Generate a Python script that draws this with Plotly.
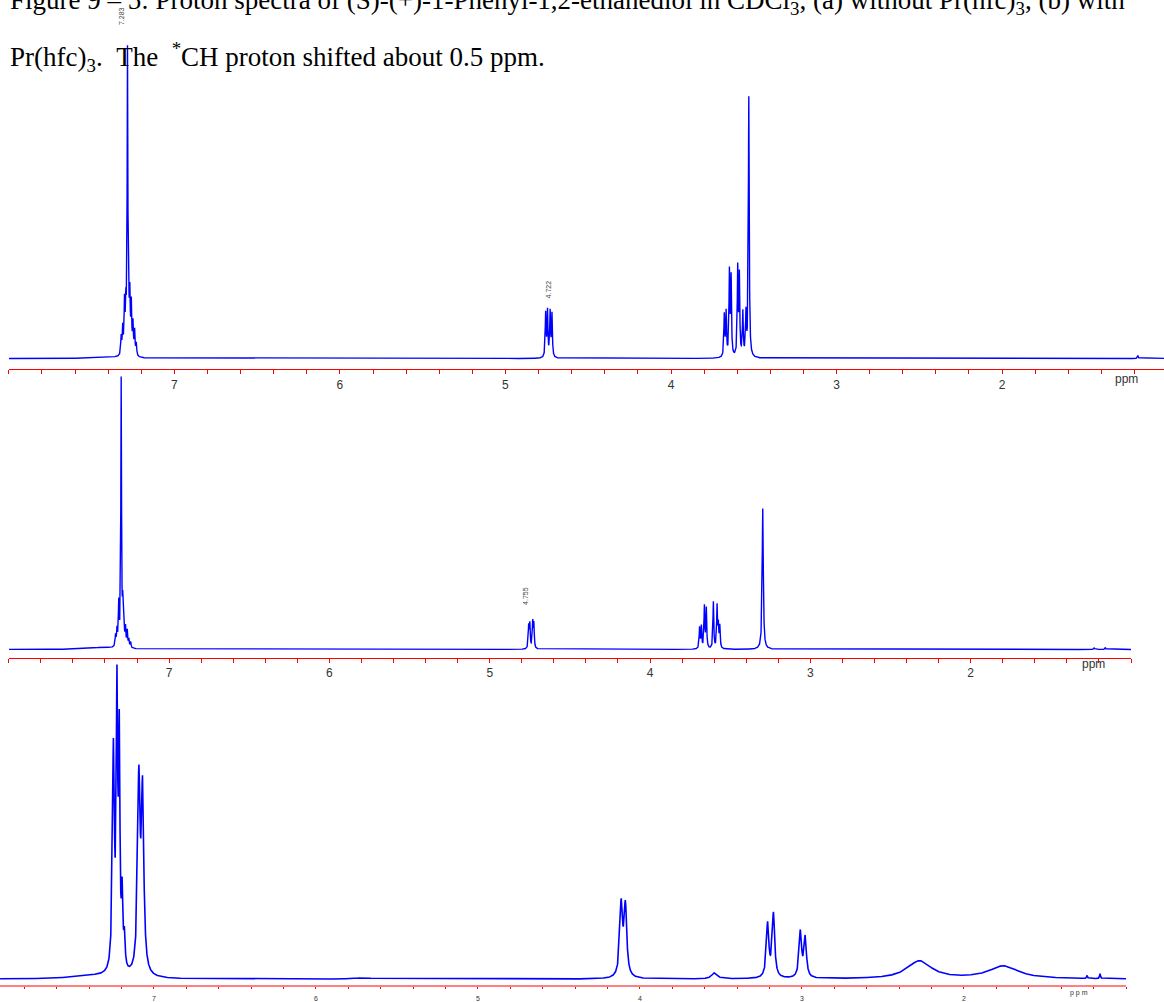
import numpy as np
import plotly.graph_objects as go

W, H = 1164, 1002

# ---------------- data: peak lists (ppm, intensity, half-width in ppm) ----------------
# (a) top spectrum
a_ppm = [7.321, 7.312, 7.301, 7.293, 7.283, 7.276, 7.269, 7.260, 7.250, 7.240, 7.230, 7.42,
         4.757, 4.746, 4.730, 4.719,
         3.678, 3.667, 3.647, 3.637, 3.597, 3.587, 3.566, 3.547, 3.530, 1.18]
a_int = [18, 26, 50, 44, 300, 40, 54, 48, 30, 24, 12, 1.5,
         44, 46, 45, 43,
         42, 44, 84, 78, 88, 80, 44, 42, 262, 3]
a_hw = [.003, .003, .003, .003, .0025, .003, .003, .003, .003, .003, .003, .08,
        .003, .003, .003, .003,
        .003, .003, .003, .003, .003, .003, .003, .003, .003, .003]

# (b) middle spectrum
b_ppm = [7.334, 7.325, 7.314, 7.299, 7.289, 7.282, 7.272, 7.261, 7.251, 7.240, 7.42,
         4.757, 4.750, 4.732, 4.725,
         3.691, 3.680, 3.661, 3.649, 3.605, 3.582, 3.574, 3.565, 3.297, 1.23, 1.16]
b_int = [11, 16, 42, 268, 38, 24, 18, 16, 8, 6, 2,
         22, 24, 26, 24,
         21, 22, 42, 40, 47, 42, 22, 22, 142, 1.5, 2]
b_hw = [.003, .003, .003, .0025, .003, .003, .003, .003, .003, .003, .08,
        .003, .003, .003, .003,
        .003, .003, .003, .003, .003, .003, .003, .003, .004, .003, .003]

# (c) bottom spectrum, with Pr(hfc)3
c_ppm = [7.250, 7.228, 7.214, 7.196, 7.182, 7.093, 7.070, 7.38, 5.71,
         4.116, 4.090, 3.540,
         3.212, 3.176, 3.010, 2.980,
         2.275, 1.755, 1.24, 1.16]
c_int = [222, 266, 225, 70, 30, 190, 178, 3, 1.5,
         72, 70, 6,
         54, 64, 46, 40,
         18, 13, 3, 5]
c_hw = [.007, .005, .005, .005, .005, .009, .009, .15, .05,
        .010, .010, .02,
        .009, .009, .009, .009,
        .09, .11, .003, .003]

# axis ticks
major_ticks = [7, 6, 5, 4, 3, 2]
major_text = ["7", "6", "5", "4", "3", "2"]

# peak labels
a_labels = [(7.315, "7.283"), (4.740, "4.722")]
b_labels = [(4.773, "4.755")]


def spectrum(lo, hi, ppm, inten, hw):
    x = np.arange(lo, hi, 0.0005)
    y = np.zeros_like(x)
    for c, h, w in zip(ppm, inten, hw):
        y += h * w * w / ((x - c) ** 2 + w * w)
    return x, y


def px(p):
    return p / W


def py(p):
    return 1 - p / H


fig = go.Figure()

xa, ya = spectrum(1.0, 8.0, a_ppm, a_int, a_hw)
xb, yb = spectrum(1.0, 8.0, b_ppm, b_int, b_hw)
xc, yc = spectrum(1.0, 7.95, c_ppm, c_int, c_hw)

blue = dict(color="#0000ff", width=1.4)
fig.add_trace(go.Scatter(x=xa, y=ya, mode="lines", line=blue, xaxis="x", yaxis="y", hoverinfo="skip"))
fig.add_trace(go.Scatter(x=xb, y=yb, mode="lines", line=blue, xaxis="x2", yaxis="y2", hoverinfo="skip"))
fig.add_trace(go.Scatter(x=xc, y=yc, mode="lines", line=dict(color="#0000ff", width=1.6),
                         xaxis="x3", yaxis="y3", hoverinfo="skip"))

tickfont = dict(family="Liberation Sans", size=12, color="#333333")
tickfont3 = dict(family="Liberation Sans", size=7, color="#333333")


def xax(domain, rng, anchor, font, tlen=4, lcolor="#ff0000", lwidth=1, standoff=None):
    d = dict(domain=domain, range=rng, anchor=anchor, showgrid=False, zeroline=False,
             showline=True, linecolor=lcolor, linewidth=lwidth,
             ticks="outside", ticklen=tlen, tickcolor="#ff0000", tickwidth=1,
             tickvals=major_ticks, ticktext=major_text, tickfont=font,
             minor=dict(ticks="outside", ticklen=tlen, tickcolor="#ff0000", dtick=0.2, tick0=0,
                        showgrid=False))
    if standoff is not None:
        d["ticklabelstandoff"] = standoff
    return d


def yax(domain, rng, anchor):
    return dict(domain=domain, range=rng, anchor=anchor, visible=False, showgrid=False, zeroline=False)


layout = dict(
    width=W, height=H, margin=dict(l=0, r=0, t=0, b=0),
    paper_bgcolor="white", plot_bgcolor="rgba(0,0,0,0)", showlegend=False,
    xaxis=xax([px(8.8), 1.0], [8.0, 1.022], "y", tickfont),
    yaxis=yax([py(371.7), py(5)], [-10.7, 356], "x"),
    xaxis2=xax([px(8.8), px(1131)], [8.0, 1.0], "y2", tickfont),
    yaxis2=yax([py(662.3), py(372)], [-8.3, 282], "x2"),
    xaxis3=xax([0, px(1126)], [7.95, 1.0], "y3", tickfont3,
               tlen=2, lcolor="#ff8080", lwidth=2, standoff=3),
    yaxis3=yax([py(992.3), py(640)], [-6.3, 346], "x3"),
)
fig.update_layout(**layout)

serif = dict(family="Liberation Serif", size=27, color="black")
fig.add_annotation(xref="paper", yref="paper", x=px(8), y=py(2), xanchor="left", yanchor="middle",
                   showarrow=False, font=serif,
                   text="Figure 9 \u2013 5: Proton spectra of (S)-(+)-1-Phenyl-1,2-ethanediol in CDCl<sub>3</sub>, "
                        "(a) without Pr(hfc)<sub>3</sub>, (b) with")
fig.add_annotation(xref="paper", yref="paper", x=px(8), y=py(57), xanchor="left", yanchor="middle",
                   showarrow=False, font=serif,
                   text="Pr(hfc)<sub>3</sub>.\u00a0\u00a0The\u00a0\u00a0<sup>*</sup>CH proton shifted about 0.5 ppm.")

small = dict(family="Liberation Sans", size=7, color="#444444")
for p, t in a_labels:
    yv = 345 if t == "7.283" else 70
    fig.add_annotation(xref="x", yref="y", x=p, y=yv, text=t, textangle=-90, showarrow=False,
                       font=small, xanchor="center", yanchor="middle")
for p, t in b_labels:
    fig.add_annotation(xref="x2", yref="y2", x=p, y=54, text=t, textangle=-90, showarrow=False,
                       font=small, xanchor="center", yanchor="middle")

# "ppm" unit labels
fig.add_annotation(xref="x", yref="paper", x=1.246, y=py(382), text="ppm", showarrow=False,
                   font=tickfont, xanchor="center", yanchor="middle")
fig.add_annotation(xref="x2", yref="paper", x=1.232, y=py(669), text="ppm", showarrow=False,
                   font=tickfont, xanchor="center", yanchor="middle")
fig.add_annotation(xref="x3", yref="paper", x=1.29, y=py(1000), text="p p m", showarrow=False,
                   font=tickfont3, xanchor="center", yanchor="middle")

fig.write_html("out.html", config={"displayModeBar": False},
               post_script="document.body.style.margin='0';document.body.style.overflow='hidden';")
